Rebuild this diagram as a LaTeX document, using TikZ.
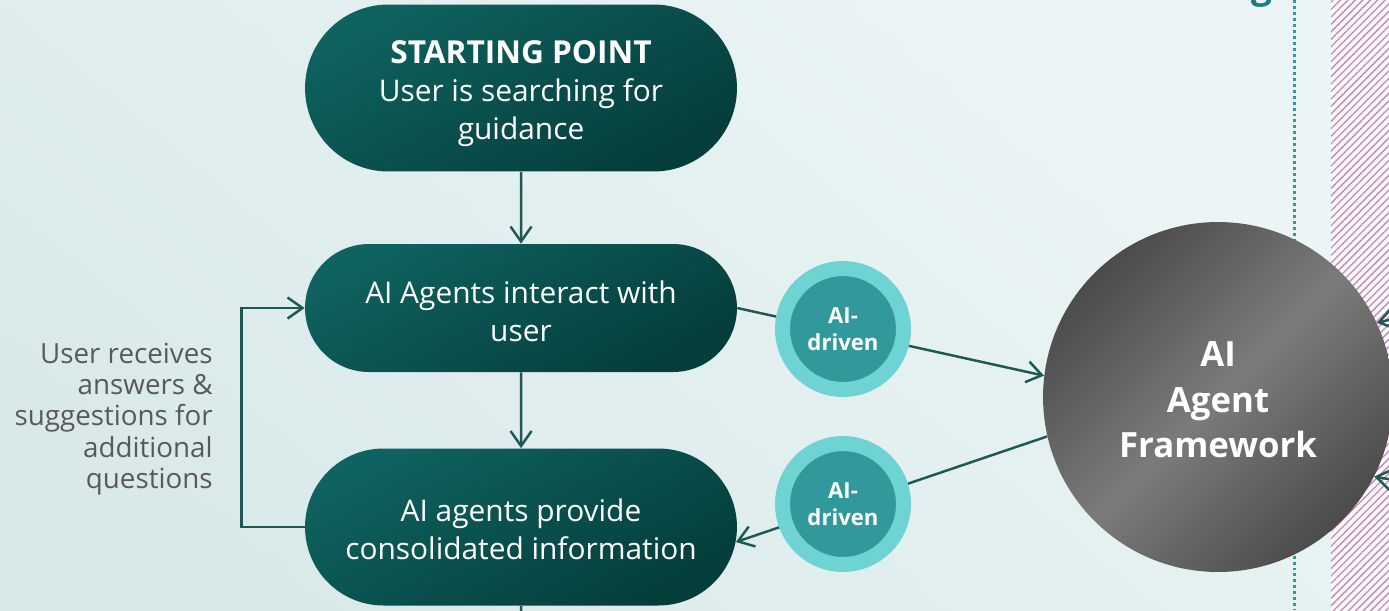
\documentclass[tikz,border=0pt]{standalone}
\usepackage{fontspec}
\setmainfont{Open Sans}
\usetikzlibrary{arrows.meta,shapes.misc,patterns.meta}

\definecolor{pillA}{HTML}{0E625F}
\definecolor{pillB}{HTML}{053D3B}
\definecolor{wire}{HTML}{1D5855}
\definecolor{ringOut}{HTML}{70D3D3}
\definecolor{ringIn}{HTML}{31999B}
\definecolor{notegray}{HTML}{595959}
\definecolor{bgA}{HTML}{D9E9EA}
\definecolor{bgB}{HTML}{ECF5F5}
\definecolor{hatch}{HTML}{C486BA}
\definecolor{dotline}{HTML}{2A9B9B}
\definecolor{titlecol}{HTML}{1A7E7C}
\definecolor{fwA}{HTML}{4B4B4B}
\definecolor{fwB}{HTML}{7B7B7B}

% lines of a node text, lowered by #1 without changing the box size
\newcommand{\stacktext}[2]{\raisebox{#1}[\height][\depth]{\begin{tabular}{@{}c@{}}#2\end{tabular}}}

\tikzset{
	pill/.style={rounded rectangle, minimum width=8.64cm, inner sep=0pt, text=white,
		font=\fontsize{17}{21.8}\selectfont, top color=pillA, bottom color=pillB, shading angle=30},
	fwdisc/.style={circle, minimum size=7cm, inner sep=0pt, text=white,
		font=\fontsize{19.8}{25.8}\selectfont\bfseries, top color=fwA, bottom color=fwA, middle color=fwB, shading angle=45},
	aidot/.style={circle, minimum size=2.42cm, inner sep=0pt, line width=0.3cm, draw=ringOut, fill=ringIn,
		align=center, text=white, font=\fontsize{12.6}{15.5}\selectfont\bfseries},
	loopnote/.style={align=right, text=notegray, inner sep=0pt, font=\fontsize{15.8}{17.8}\selectfont},
	wire/.style={draw=wire, line width=1.4pt, -{Straight Barb[length=0.3cm,width=0.42cm]}},
	titletext/.style={anchor=base east, inner sep=0pt, text=titlecol, font=\fontsize{21}{25}\selectfont\bfseries}
}

\begin{document}
\begin{tikzpicture}[x=0.02cm, y=-0.02cm]
			%%%%% START %%%%%
			
			\useasboundingbox (0,0) rectangle (1389,610);
			\clip (0,0) rectangle (1389,610);
			
			\shade[bottom color=bgA, top color=bgB, shading angle=-40] (0,0) rectangle (1331,610);
			\fill[white!96!hatch] (1331,0) rectangle (1389,610);
			\fill[pattern={Lines[angle=45,distance=3pt,line width=0.75pt]}, pattern color=hatch] (1331,0) rectangle (1389,610);
			\draw[dotline, line width=1.7pt, dash pattern=on 1.7pt off 1.7pt] (1294,0) -- (1294,610);
			
			\node[titletext] (heading) at (1273,-2) {Processing};
			
			\node[pill, minimum height=3.34cm] (start) at (521,88) {\stacktext{-0.12cm}{{\fontsize{18}{21.8}\selectfont\bfseries STARTING POINT}\\User is searching for\\guidance}};
			\node[pill, minimum height=2.56cm] (agent) at (521,308) {\stacktext{-0.13cm}{AI Agents interact with\\user}};
			\node[pill, minimum height=3.14cm] (info) at (521,527) {\stacktext{-0.11cm}{AI agents provide\\consolidated information}};
			
			\node[fwdisc] (fw) at (1218,397) {\stacktext{-0.12cm}{AI\\Agent\\Framework}};
			
			\node[loopnote, anchor=east] (usernote) at (213,419) {User receives\\answers \&\\suggestions for\\additional\\questions};
			
			\coordinate (below) at (521,640);
			\coordinate (inA) at (1450,305);
			\coordinate (inB) at (1450,490);
			
			\draw[wire] (start) -- (agent);
			\draw[wire] (agent) -- (info);
			\draw[wire, -] (info) -- (below);
			\draw[wire] (info.west) -- ++(-63,0) |- (agent.west);
			
			\draw[wire] (agent.east) -- (fw.173);
			\draw[wire] (fw.193) -- (info.356);
			\draw[wire] (inA) -- (fw.25);
			\draw[wire] (inB) -- (fw.333);
			
			\node[aidot] (aiup) at (843,329) {AI-\\driven};
			\node[aidot] (aidown) at (843,504) {AI-\\driven};
			
			%%%%% END %%%%%
\end{tikzpicture}
\end{document}
